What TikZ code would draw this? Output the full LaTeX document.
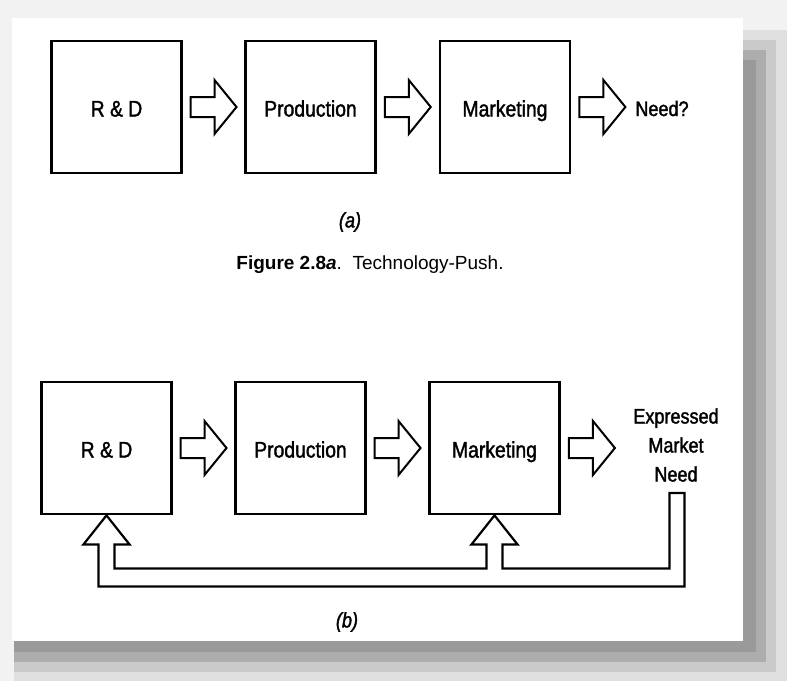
\documentclass[tikz,border=0pt]{standalone}
\usepackage{fontspec}
\setmainfont{Liberation Sans}
\newfontfamily\condfont{Liberation Sans}[FakeStretch=0.86,FakeBold=1.6]
\usetikzlibrary{calc}
\definecolor{pagebg}{HTML}{F2F2F2}
\definecolor{sha}{HTML}{E0E0E0}
\definecolor{shb}{HTML}{CACACA}
\definecolor{shc}{HTML}{ADADAD}
\definecolor{shd}{HTML}{9A9A9A}
\begin{document}
\begin{tikzpicture}[x=1pt,y=-1pt,
  box/.style={draw, line width=2.8pt, minimum width=130pt, minimum height=132pt, inner sep=0pt,
    font=\condfont\fontsize{22.5}{26}\selectfont, text height=20pt, text depth=1pt},
  lbl/.style={inner sep=0pt, font=\condfont\fontsize{21}{24}\selectfont, text height=19pt, text depth=1pt},
  captxt/.style={inner sep=0pt, font=\fontsize{19}{22}\selectfont},
  parlbl/.style={inner sep=0pt, font=\condfont\fontsize{21}{24}\selectfont\itshape},
  fb/.style={draw, line width=2.2pt, line join=miter, fill=white},
  blockarr/.pic={\draw[line width=2pt, line join=miter, fill=white]
    (-23,-10) -- (1,-10) -- (1,-27) -- (23,0) -- (1,27) -- (1,10) -- (-23,10) -- cycle;}
]
\useasboundingbox (0,0) rectangle (787,681);
% page and shadow
\fill[pagebg] (0,0) rectangle (787,681);
\fill[sha] (14,30) rectangle (787,681);
\fill[shb] (14,40) rectangle (776,672);
\fill[shc] (14,50) rectangle (766,662);
\fill[shd] (14,60) rectangle (756,652);
\fill[white] (12,18) rectangle (743,641);

% (a) Technology push
\node[box] (rd1) at (116.5,107) {R \& D};
\node[box] (pr1) at (310.5,107) {Production};
\node[box] (mk1) at (505,107) {Marketing};
\node[lbl] (need1) at (662,107) {Need?};
\path ($(rd1.east)!0.5!(pr1.west)$) pic {blockarr};
\path ($(pr1.east)!0.5!(mk1.west)$) pic {blockarr};
\path ($(mk1.east)+(31,0)$) pic {blockarr};
\node[parlbl] (la) at (350,222) {(a)};
\node[captxt] (capa) at (370,265) {{\bfseries Figure 2.8}{\bfseries\itshape a}.\ \ Technology-Push.};

% (b) Market pull
\node[box] (rd2) at (106.5,448) {R \& D};
\node[box] (pr2) at (300.5,448) {Production};
\node[box] (mk2) at (494.5,448) {Marketing};
\node[lbl, align=center, font=\condfont\fontsize{21}{29}\selectfont, text height=, text depth=] (need2) at (676,445) {Expressed\\Market\\Need};
\path ($(rd2.east)!0.5!(pr2.west)$) pic {blockarr};
\path ($(pr2.east)!0.5!(mk2.west)$) pic {blockarr};
\path ($(mk2.east)+(31,0)$) pic {blockarr};
\coordinate (pipetop) at (677,493);
\draw[fb] (rd2.south) -- ++(23,29) -- ++(-15,0) |- ($(mk2.south)+(-8,53)$)
  -- ++(0,-24) -- ++(-15,0) -- (mk2.south) -- ++(23,29) -- ++(-15,0)
  -- ++(0,24) -| ($(pipetop)+(-7.5,0)$) -- ++(15,0)
  |- ($(rd2.south)+(-8,71)$) -- ++(0,-42) -- ++(-15,0) -- cycle;
\node[parlbl] (lb) at (347,622) {(b)};
\end{tikzpicture}
\end{document}
